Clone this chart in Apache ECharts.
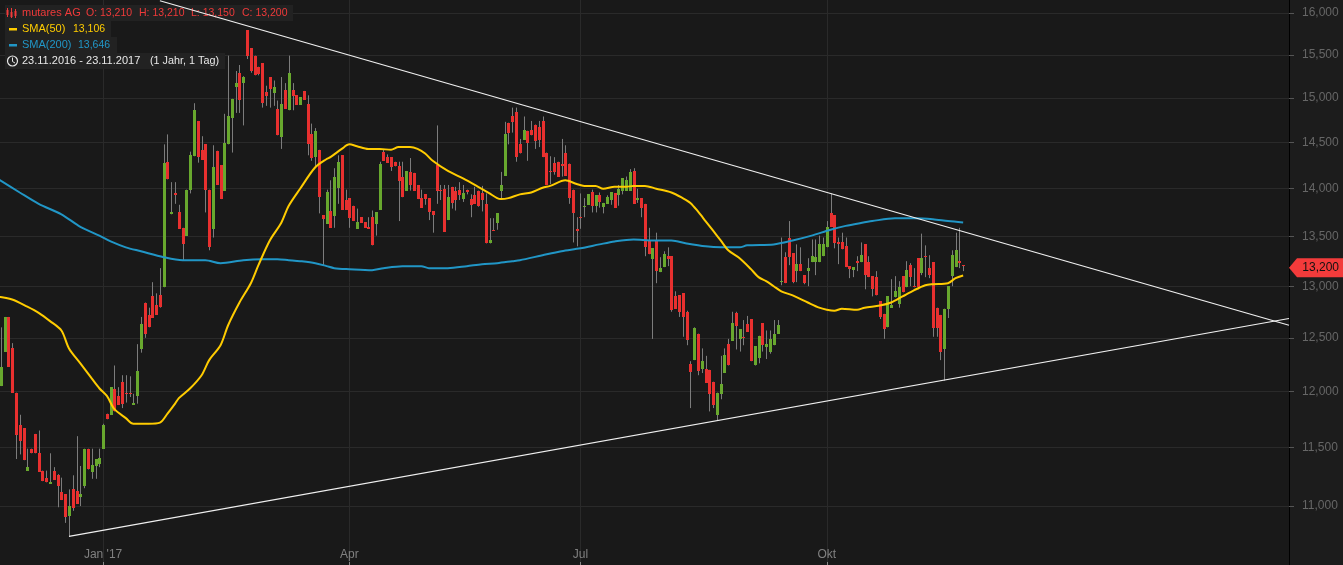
<!DOCTYPE html>
<html>
<head>
<meta charset="utf-8">
<title>mutares AG</title>
<script src="https://cdn.jsdelivr.net/npm/echarts@6/dist/echarts.min.js"></script>
<style>
  html, body { margin: 0; padding: 0; background: #1c1c1c; overflow: hidden; }
  /* first candle sits partly off the left edge of the picture */
  #chart { width: 1346px; height: 565px; margin-left: -3px; }
</style>
</head>
<body>
<div id="chart"></div>
<script>
// daily candles, 23.11.2016 - 23.11.2017
const opens = [
  11.85,12.05,12.37,12.70,12.40,11.99,11.70,11.67,11.30,11.49,
  11.62,11.45,11.30,11.24,11.19,11.30,11.26,11.12,11.10,10.92,
  11.14,11.13,11.08,11.17,11.49,11.29,11.34,11.36,11.49,11.80,
  11.79,12.02,11.96,12.09,11.99,11.99,11.88,11.96,12.39,12.84,
  12.72,12.90,12.82,12.91,12.99,14.29,13.73,13.95,13.75,13.59,
  13.51,13.99,14.35,14.74,14.42,14.48,13.99,13.58,14.41,14.25,
  13.98,14.48,14.77,15.13,15.29,15.17,15.79,15.58,15.49,15.36,
  15.40,15.07,15.24,15.06,14.87,14.56,15.09,14.86,15.09,15.03,
  14.92,15.08,14.93,14.59,14.34,14.42,13.72,13.63,13.77,13.71,
  14.01,14.36,13.88,13.90,13.82,13.58,13.70,13.65,13.60,13.70,
  13.63,13.78,14.40,14.34,14.34,14.29,14.24,14.13,13.98,14.18,
  14.17,14.04,13.90,13.94,13.90,13.76,14.25,13.99,14.00,13.67,
  14.02,13.98,13.99,13.89,13.99,13.89,13.93,13.98,13.95,13.84,
  13.43,13.57,13.64,13.98,14.14,14.72,14.79,14.84,14.48,14.53,
  14.63,14.64,14.70,14.67,14.74,14.39,14.19,14.28,14.29,14.27,
  14.38,14.27,13.99,13.58,13.70,13.81,13.83,13.96,13.82,13.93,
  13.81,13.84,13.88,13.95,13.93,13.98,13.98,13.98,14.19,13.88,
  13.90,13.84,13.46,13.27,13.45,13.14,13.19,13.30,13.30,12.90,
  12.91,12.93,12.75,12.25,12.29,12.54,12.21,12.21,12.20,12.09,
  11.79,11.98,12.17,12.44,12.47,12.74,12.49,12.51,12.63,12.68,
  12.24,12.31,12.64,12.41,12.37,12.43,12.54,13.04,13.29,13.49,
  13.33,13.15,13.22,13.11,13.15,13.24,13.24,13.24,13.30,13.39,
  13.74,13.72,13.44,13.44,13.40,13.20,13.16,13.25,13.24,13.42,
  13.24,13.10,13.09,12.85,12.73,12.60,12.79,12.89,12.83,13.10,
  12.99,13.21,13.00,13.28,13.13,13.30,13.18,13.24,12.79,12.72,
  12.39,12.78,13.10,13.19,13.25,13.21
];
const closes = [
  11.89,12.23,12.70,12.23,11.99,11.61,11.56,11.39,11.33,11.45,
  11.45,11.29,11.21,11.20,11.20,11.22,11.17,11.05,10.91,11.00,
  10.98,11.02,11.10,11.49,11.31,11.35,11.40,11.41,11.70,11.75,
  12.04,11.82,11.88,11.89,11.98,11.98,11.90,12.19,12.63,12.54,
  12.60,12.69,12.72,12.80,14.28,14.10,13.75,13.93,13.58,13.42,
  13.99,14.36,14.86,14.34,14.31,13.99,13.39,14.23,14.04,13.89,
  14.50,14.79,14.99,15.17,14.98,15.24,15.48,15.31,15.26,15.28,
  14.94,15.02,15.10,15.12,14.58,14.93,14.88,15.29,15.02,14.92,
  15.01,14.98,14.48,14.33,14.63,13.91,13.68,13.97,13.59,14.13,
  14.29,13.78,13.78,13.69,13.66,13.65,13.64,13.59,13.58,13.41,
  13.75,14.27,14.30,14.28,14.23,14.24,14.08,13.91,14.19,14.04,
  13.98,13.89,13.80,13.89,13.75,13.72,13.98,13.98,13.55,13.91,
  13.85,13.88,13.93,13.95,13.96,13.83,13.84,13.82,13.88,13.43,
  13.46,13.56,13.74,14.04,14.59,14.61,14.73,14.34,14.38,14.64,
  14.49,14.58,14.52,14.53,14.34,14.04,14.18,14.18,14.13,14.24,
  14.14,13.90,13.74,13.56,13.69,13.82,13.94,13.82,13.93,13.86,
  13.85,13.91,13.96,13.80,14.00,14.11,14.09,14.18,13.84,13.90,
  13.80,13.39,13.32,13.38,13.15,13.18,13.32,13.27,12.77,12.78,
  12.75,12.70,12.48,12.18,12.59,12.19,12.28,12.08,11.98,11.88,
  11.99,12.07,12.34,12.24,12.64,12.61,12.58,12.50,12.56,12.28,
  12.42,12.52,12.43,12.44,12.49,12.54,12.62,13.05,13.03,13.29,
  13.04,13.22,13.15,13.03,13.18,13.30,13.29,13.42,13.42,13.60,
  13.60,13.43,13.42,13.37,13.19,13.17,13.19,13.23,13.31,13.11,
  13.09,12.97,12.91,12.70,12.58,12.90,12.82,12.95,12.99,12.94,
  13.16,13.09,12.99,12.99,13.28,13.29,13.11,12.59,12.59,12.37,
  12.78,13.00,13.31,13.36,13.23,13.20
];
const lows = [
  11.85,12.05,12.37,12.23,11.99,11.40,11.44,11.39,11.30,11.45,
  11.45,11.29,11.21,11.20,11.19,11.22,10.99,11.05,10.86,10.75,
  10.96,11.02,11.00,11.15,11.31,11.23,11.23,11.33,11.49,11.75,
  11.79,11.82,11.88,11.85,11.90,11.95,11.88,11.89,12.36,12.50,
  12.60,12.69,12.72,12.79,12.99,14.10,13.73,13.84,13.58,13.26,
  13.51,13.95,14.35,14.28,14.31,13.75,13.36,13.49,14.04,13.89,
  13.98,14.48,14.39,14.83,14.83,14.69,15.45,15.29,15.26,15.26,
  14.89,14.91,14.89,14.91,14.58,14.43,14.88,14.86,14.86,14.92,
  14.92,14.98,14.36,14.30,14.23,13.74,13.21,13.63,13.59,13.59,
  13.84,13.78,13.78,13.59,13.66,13.58,13.64,13.59,13.58,13.41,
  13.51,13.78,14.30,14.28,14.19,14.24,13.66,13.91,13.98,13.98,
  13.98,13.89,13.80,13.83,13.67,13.54,13.84,13.88,13.55,13.67,
  13.79,13.77,13.88,13.86,13.94,13.70,13.84,13.81,13.76,13.43,
  13.43,13.56,13.57,13.89,14.14,14.48,14.61,14.29,14.38,14.53,
  14.30,14.58,14.43,14.45,14.34,14.04,14.05,14.15,14.13,14.13,
  14.14,13.84,13.44,13.40,13.58,13.70,13.83,13.75,13.75,13.80,
  13.74,13.84,13.83,13.80,13.82,13.94,13.98,13.98,13.84,13.85,
  13.70,13.30,13.32,12.49,13.03,13.14,13.19,13.20,12.75,12.78,
  12.70,12.51,12.43,11.85,12.29,12.15,12.17,12.08,11.82,11.85,
  11.74,11.93,12.17,12.24,12.47,12.39,12.37,12.43,12.56,12.28,
  12.24,12.26,12.37,12.30,12.35,12.43,12.54,13.01,13.03,13.21,
  13.03,13.04,13.15,13.02,13.00,13.24,13.11,13.24,13.30,13.39,
  13.60,13.38,13.22,13.37,13.19,13.08,13.09,13.15,13.24,12.97,
  13.09,12.90,12.91,12.68,12.49,12.60,12.79,12.89,12.79,12.94,
  12.99,13.00,12.99,12.97,13.11,13.09,13.08,12.51,12.51,12.29,
  12.10,12.69,13.00,13.19,13.18,13.15
];
const highs = [
  11.89,12.60,12.70,12.70,12.45,11.99,11.79,11.67,11.49,11.49,
  11.62,11.65,11.30,11.30,11.45,11.33,11.27,11.24,11.10,11.14,
  11.26,11.60,11.34,11.49,11.49,11.49,11.40,11.49,11.71,11.80,
  12.04,12.24,12.04,12.15,12.15,12.14,11.98,12.44,12.70,12.84,
  12.79,13.04,12.93,13.18,14.48,14.59,14.07,14.07,13.83,13.59,
  13.99,14.40,14.94,14.74,14.57,14.48,13.99,14.47,14.41,14.25,
  14.82,15.49,14.99,15.31,15.38,15.25,15.79,15.58,15.49,15.36,
  15.40,15.14,15.24,15.20,14.97,15.24,15.17,15.49,15.17,15.03,
  15.01,15.08,15.03,14.71,14.66,14.42,13.72,13.99,14.09,14.22,
  14.36,14.36,13.99,13.90,13.82,13.79,13.70,13.65,13.70,13.77,
  13.75,14.29,14.42,14.37,14.34,14.29,14.29,14.29,14.19,14.33,
  14.17,14.04,13.99,13.94,13.90,13.76,14.69,14.04,14.04,14.04,
  14.02,14.02,14.07,14.04,13.99,13.94,14.02,13.98,14.03,13.95,
  13.69,13.69,13.74,14.18,14.73,14.72,14.89,14.89,14.54,14.79,
  14.63,14.74,14.70,14.74,14.79,14.39,14.35,14.34,14.29,14.54,
  14.47,14.27,13.99,13.70,13.95,13.90,13.94,13.99,13.93,13.96,
  13.85,13.93,13.96,13.95,14.04,14.11,14.13,14.21,14.22,14.00,
  13.90,13.84,13.59,13.38,13.54,13.29,13.35,13.39,13.30,12.95,
  12.91,12.93,12.76,12.28,12.60,12.54,12.40,12.33,12.20,12.09,
  11.99,12.33,12.40,12.49,12.75,12.75,12.58,12.67,12.71,12.68,
  12.42,12.52,12.64,12.57,12.57,12.67,12.67,13.49,13.34,13.66,
  13.33,13.42,13.39,13.11,13.28,13.47,13.47,13.51,13.49,13.66,
  13.95,13.72,13.49,13.54,13.49,13.20,13.19,13.30,13.44,13.42,
  13.30,13.10,13.15,12.85,12.73,12.90,13.07,13.10,13.05,13.10,
  13.25,13.23,13.18,13.28,13.53,13.41,13.31,13.24,12.79,12.72,
  12.78,13.00,13.36,13.54,13.59,13.21
];

// moving averages as [candle number, value]
const sma50 = [
  [0,12.90],[4,12.87],[8,12.80],[11,12.74],[14,12.66],[17,12.57],[19,12.40],[22,12.26],[25,12.12],[27,12.03],
  [29,11.96],[31,11.84],[34,11.76],[36,11.71],[40,11.71],[43,11.72],[45,11.80],[47,11.89],[48,11.94],[51,12.03],
  [54,12.15],[56,12.29],[59,12.43],[61,12.62],[64,12.84],[67,13.03],[69,13.21],[72,13.46],[75,13.64],[77,13.82],
  [80,14.00],[84,14.23],[87,14.32],[88,14.34],[91,14.43],[93,14.48],[95,14.46],[98,14.43],[101,14.43],[104,14.42],
  [106,14.45],[109,14.45],[111,14.43],[113,14.38],[115,14.30],[119,14.19],[123,14.11],[127,14.02],[130,13.95],[132,13.90],
  [133,13.89],[135,13.90],[138,13.94],[141,13.96],[144,14.01],[146,14.03],[150,14.09],[153,14.05],[155,14.03],[158,14.03],
  [160,14.00],[163,14.02],[166,14.02],[168,14.03],[171,14.03],[174,14.00],[178,13.96],[181,13.90],[183,13.85],[185,13.76],
  [187,13.66],[189,13.56],[191,13.46],[193,13.36],[196,13.28],[199,13.17],[201,13.09],[203,13.05],[205,13.00],[207,12.95],
  [210,12.91],[214,12.84],[217,12.79],[219,12.77],[221,12.76],[223,12.78],[227,12.77],[229,12.79],[233,12.81],[236,12.84],
  [239,12.90],[242,12.96],[245,13.01],[247,13.02],[251,13.03],[253,13.08],[255,13.106]
];
const sma200 = [
  [0,14.11],[6,13.96],[11,13.84],[17,13.73],[22,13.60],[27,13.51],[30,13.45],[34,13.39],[38,13.35],[44,13.29],
  [49,13.26],[55,13.26],[59,13.23],[65,13.26],[70,13.27],[74,13.27],[77,13.26],[80,13.25],[84,13.23],[87,13.20],
  [89,13.18],[93,13.17],[99,13.16],[102,13.18],[107,13.20],[112,13.20],[114,13.18],[119,13.18],[124,13.20],[128,13.22],
  [132,13.23],[136,13.25],[138,13.26],[144,13.31],[149,13.35],[154,13.38],[159,13.42],[163,13.45],[168,13.47],[173,13.46],
  [178,13.46],[182,13.43],[187,13.40],[191,13.39],[196,13.39],[198,13.41],[205,13.42],[210,13.46],[215,13.51],[220,13.57],
  [224,13.61],[228,13.64],[231,13.66],[237,13.69],[242,13.69],[247,13.68],[251,13.66],[255,13.646]
];
const trendUpper = [[43,16.15],[341,12.62]];
const trendLower = [[19,10.75],[341,12.685]];

const yTicks = [11,11.5,12,12.5,13,13.5,14,14.5,15,15.5,16];
const xTickIndex = [28,93,154,219];
const xTickNames = ["Jan '17",'Apr','Jul','Okt'];
const slotCount = 342; // the empty room right of the last candle is on the axis too
const categories = Array.from({ length: slotCount }, (_, i) => {
  const k = xTickIndex.indexOf(i);
  return k >= 0 ? xTickNames[k] : '';
});

const RED = '#e8302f';
const GREEN = '#68a82e';
const WICK = '#7c7c7c';
const LEG_RED = '#f03a3a';
const LEG_YELLOW = '#ffcc00';
const LEG_BLUE = '#2196c6';
const LEG_WHITE = '#e8e8e8';
const fmt = (v) => v.toFixed(3).replace('.', ',');
const isTick = (i) => xTickIndex.indexOf(i) >= 0;

const lastClose = closes[closes.length - 1];
const candleData = opens.map((o, i) => [i, o, closes[i], lows[i], highs[i]]);

// wick behind a body 3px wide, both snapped to whole pixels
function renderCandle(params, api) {
  const i = api.value(0);
  const o = api.value(1);
  const c = api.value(2);
  const x = Math.round(api.coord([i, o])[0]);
  const top = Math.round(api.coord([i, Math.max(o, c)])[1]);
  const bot = Math.round(api.coord([i, Math.min(o, c)])[1]);
  const hi = api.coord([i, api.value(4)])[1];
  const lo = api.coord([i, api.value(3)])[1];
  return {
    type: 'group',
    children: [
      { type: 'line', shape: { x1: x + 0.5, y1: hi, x2: x + 0.5, y2: lo }, style: { stroke: WICK, lineWidth: 1 } },
      { type: 'rect', shape: { x: x - 1, y: top, width: 3, height: Math.max(1, bot - top) }, style: { fill: c >= o ? GREEN : RED } }
    ]
  };
}

function legendBox(y, w) {
  return { type: 'rect', shape: { x: 5, y: y, width: w, height: 16 }, style: { fill: '#222222' }, z: 1 };
}
function legendText(x, y, text, color, size) {
  return {
    type: 'text', x: x, y: y + 8, z: 1,
    style: { text: text, fill: color, font: (size || 11) + 'px "Liberation Sans", Arial, sans-serif', textVerticalAlign: 'middle' }
  };
}

const chart = echarts.init(document.getElementById('chart'));
chart.setOption({
  animation: false,
  backgroundColor: '#1c1c1c',
  grid: { show: true, left: 0, top: 0, width: 1292, height: 565, borderWidth: 0, backgroundColor: '#191919' },
  xAxis: {
    type: 'category',
    data: categories,
    boundaryGap: false,
    axisLine: { show: false },
    axisTick: { show: true, inside: true, length: 3, interval: (i) => isTick(i), lineStyle: { color: '#888888' } },
    axisLabel: {
      show: true, inside: true, margin: 4, interval: (i) => isTick(i), color: '#808080',
      fontSize: 12, fontFamily: '"Liberation Sans", Arial, sans-serif'
    },
    splitLine: { show: true, interval: (i) => isTick(i), lineStyle: { color: '#2a2a2a', width: 1 } }
  },
  yAxis: {
    type: 'log',
    position: 'right',
    min: 10.518,
    max: 16.159,
    axisLine: { show: true, lineStyle: { color: '#000000', width: 1 } },
    axisTick: { show: true, length: 5, customValues: yTicks, lineStyle: { color: '#555555' } },
    axisLabel: {
      show: true, margin: 13, customValues: yTicks, color: '#666666', fontSize: 12,
      fontFamily: '"Liberation Sans", Arial, sans-serif', formatter: (v) => fmt(v)
    },
    splitLine: { show: true, lineStyle: { color: '#2a2a2a', width: 1 } },
    minorTick: { show: false },
    minorSplitLine: { show: false }
  },
  series: [
    {
      name: 'mutares AG', type: 'custom', data: candleData, z: 3, silent: true,
      encode: { x: 0, y: [1, 2, 3, 4] },
      renderItem: renderCandle
    },
    {
      name: 'SMA(200)', type: 'line', data: sma200, showSymbol: false, smooth: 0.3, z: 4,
      lineStyle: { color: '#2196c6', width: 2 }
    },
    {
      name: 'SMA(50)', type: 'line', data: sma50, showSymbol: false, smooth: 0.3, z: 5,
      lineStyle: { color: '#ffcc00', width: 2 }
    },
    {
      name: 'trend upper', type: 'line', data: trendUpper, showSymbol: false, z: 6,
      lineStyle: { color: '#f0f0f0', width: 1.2 }
    },
    {
      name: 'trend lower', type: 'line', data: trendLower, showSymbol: false, z: 6,
      lineStyle: { color: '#f0f0f0', width: 1.2 }
    },
    {
      // last price tag on the axis
      name: 'last', type: 'custom', z: 10, silent: true,
      encode: { x: 0, y: 1 },
      data: [[slotCount - 1, lastClose]],
      renderItem: (params, api) => {
        const p = api.coord([api.value(0), api.value(1)]);
        const mid = p[1] + 1.5;
        return {
          type: 'group',
          children: [
            { type: 'polygon', shape: { points: [[p[0], mid], [p[0] + 8, mid - 9.5], [1346, mid - 9.5], [1346, mid + 9.5], [p[0] + 8, mid + 9.5]] }, style: { fill: '#f33b3b' } },
            { type: 'text', x: 1342, y: mid, style: { text: fmt(api.value(1)), fill: '#111111', font: '12px "Liberation Sans", Arial, sans-serif', textAlign: 'right', textVerticalAlign: 'middle' } }
          ]
        };
      }
    }
  ],
  graphic: [{
    type: 'group',
    x: 3,
    children: [
      legendBox(5, 288), legendBox(21, 106), legendBox(37, 112), legendBox(53, 220),
      legendText(22, 5, 'mutares AG', LEG_RED),
      legendText(86, 5, 'O: 13,210', LEG_RED, 10.5),
      legendText(139, 5, 'H: 13,210', LEG_RED, 10.5),
      legendText(191, 5, 'L: 13,150', LEG_RED, 10.5),
      legendText(242, 5, 'C: 13,200', LEG_RED, 10.5),
      legendText(22, 21, 'SMA(50)', LEG_YELLOW),
      legendText(73, 21, '13,106', LEG_YELLOW, 10.5),
      legendText(22, 37, 'SMA(200)', LEG_BLUE),
      legendText(78, 37, '13,646', LEG_BLUE, 10.5),
      legendText(22, 53, '23.11.2016 - 23.11.2017', LEG_WHITE),
      legendText(150, 53, '(1 Jahr, 1 Tag)', LEG_WHITE, 10.8),
      // candle icon
      { type: 'rect', z: 1, shape: { x: 6.5, y: 10, width: 2, height: 5 }, style: { fill: LEG_RED } },
      { type: 'rect', z: 1, shape: { x: 7, y: 8, width: 1, height: 9 }, style: { fill: LEG_RED } },
      { type: 'rect', z: 1, shape: { x: 10.5, y: 12, width: 2, height: 5 }, style: { fill: LEG_RED } },
      { type: 'rect', z: 1, shape: { x: 11, y: 8, width: 1, height: 10 }, style: { fill: LEG_RED } },
      { type: 'rect', z: 1, shape: { x: 14.5, y: 11, width: 2, height: 5 }, style: { fill: LEG_RED } },
      { type: 'rect', z: 1, shape: { x: 15, y: 9, width: 1, height: 9 }, style: { fill: LEG_RED } },
      // line swatches
      { type: 'rect', z: 1, shape: { x: 9, y: 28, width: 8, height: 2.5 }, style: { fill: LEG_YELLOW } },
      { type: 'rect', z: 1, shape: { x: 9, y: 44, width: 8, height: 2.5 }, style: { fill: LEG_BLUE } },
      // clock
      { type: 'circle', z: 1, shape: { cx: 12.5, cy: 61, r: 5 }, style: { fill: 'none', stroke: LEG_WHITE, lineWidth: 1.2 } },
      { type: 'polyline', z: 1, shape: { points: [[12.5, 57.5], [12.5, 61.5], [15, 63]] }, style: { fill: 'none', stroke: LEG_WHITE, lineWidth: 1 } }
    ]
  }]
});
</script>
</body>
</html>
